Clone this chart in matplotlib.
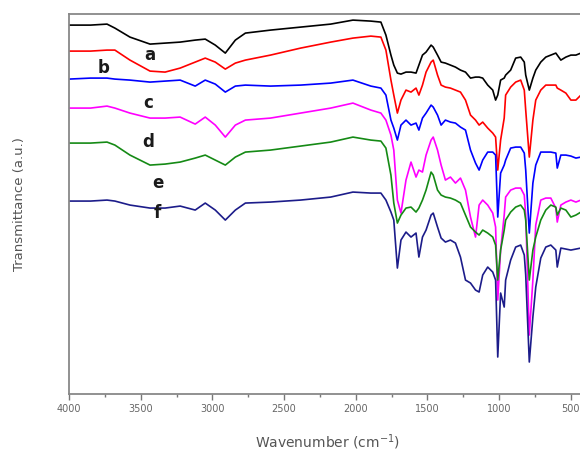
import matplotlib.pyplot as plt

# wavenumber grid (cm-1) shared by all spectra
wavenumber = [4000, 3850, 3735, 3680, 3575, 3435, 3330, 3225, 3120, 3050,
              2980, 2910, 2840, 2770, 2595, 2385, 2175, 2020, 1895, 1825,
              1790, 1755, 1735, 1710, 1685, 1650, 1615, 1580, 1560, 1535,
              1510, 1475, 1460, 1430, 1405, 1375, 1340, 1305, 1270, 1235,
              1200, 1165, 1140, 1115, 1080, 1045, 1025, 1010, 990, 965,
              955, 920, 885, 850, 825, 815, 790, 765, 745, 710,
              675, 640, 605, 595, 570, 535, 500, 465, 430, 400]

# transmittance (a.u., offset stacked)
spec_a = [369, 369, 370, 366, 357, 350, 351, 352, 354, 355,
          349, 341, 354, 361, 364, 367, 370, 374, 373, 372,
          359, 339, 329, 321, 320, 322, 322, 321, 329, 339,
          342, 349, 347, 339, 332, 331, 329, 327, 324, 322,
          316, 317, 317, 316, 309, 304, 294, 299, 314, 316,
          319, 324, 336, 337, 332, 319, 304, 316, 324, 332,
          337, 339, 341, 339, 334, 337, 339, 339, 341, 342]
spec_b = [343, 343, 344, 344, 334, 323, 322, 326, 332, 336,
          332, 325, 331, 334, 339, 346, 352, 356, 358, 357,
          344, 314, 299, 281, 294, 304, 302, 306, 299, 309,
          322, 332, 334, 319, 309, 307, 306, 304, 302, 294,
          279, 274, 269, 272, 266, 261, 257, 224, 254, 276,
          299, 307, 312, 314, 304, 284, 237, 274, 294, 304,
          309, 309, 309, 306, 304, 301, 294, 294, 299, 301]
spec_c = [315, 316, 316, 315, 314, 312, 313, 314, 308, 314,
          310, 302, 308, 309, 308, 309, 311, 314, 308, 306,
          299, 274, 266, 254, 269, 274, 269, 271, 264, 276,
          281, 289, 287, 279, 269, 274, 272, 271, 267, 264,
          244, 231, 224, 234, 242, 242, 239, 177, 221, 229,
          234, 246, 247, 247, 241, 224, 161, 211, 229, 242,
          242, 242, 241, 226, 239, 239, 238, 236, 237, 237]
spec_d = [286, 286, 288, 286, 281, 276, 276, 277, 270, 277,
          269, 257, 269, 274, 276, 281, 286, 291, 284, 281,
          274, 259, 244, 194, 181, 214, 232, 217, 224, 222,
          239, 254, 257, 244, 229, 214, 217, 211, 216, 204,
          177, 157, 189, 194, 189, 181, 167, 94, 144, 179,
          197, 204, 206, 206, 199, 179, 59, 114, 169, 194,
          196, 196, 186, 172, 189, 192, 194, 192, 194, 194]
spec_e = [251, 251, 252, 249, 239, 229, 230, 232, 236, 239,
          234, 229, 237, 242, 244, 248, 252, 257, 254, 253,
          246, 219, 191, 171, 179, 186, 187, 182, 186, 194,
          204, 222, 219, 204, 199, 197, 196, 194, 191, 179,
          167, 162, 159, 164, 161, 157, 149, 114, 144, 164,
          174, 182, 187, 189, 184, 174, 114, 144, 157, 174,
          184, 189, 187, 179, 186, 184, 177, 179, 182, 182]
spec_f = [193, 193, 194, 193, 189, 186, 186, 188, 184, 191,
          184, 174, 184, 191, 192, 194, 197, 202, 201, 201,
          194, 182, 174, 126, 154, 162, 157, 161, 137, 157,
          164, 179, 181, 167, 156, 152, 154, 151, 137, 114,
          111, 104, 102, 119, 127, 122, 114, 37, 101, 87,
          114, 134, 147, 149, 139, 119, 32, 77, 107, 136,
          147, 149, 144, 127, 146, 145, 144, 145, 146, 146]

labels = ["a", "b", "c", "d", "e", "f"]
colors = ["black", "#ff0000", "#0000ff", "#ff00ff", "#158a15", "#1c1c8a"]
label_x = [3435, 3760, 3450, 3450, 3380, 3385]
label_y = [339, 326, 291, 252, 211, 181]

fig = plt.figure(figsize=(5.8, 4.55), dpi=100)
ax = fig.add_axes([0.119, 0.134, 0.890, 0.835])

for spec, col in zip([spec_a, spec_b, spec_c, spec_d, spec_e, spec_f], colors):
    ax.plot(wavenumber, spec, color=col, linewidth=1.2)

for lab, lx, ly in zip(labels, label_x, label_y):
    ax.text(lx, ly, lab, fontsize=12, fontweight="bold", color="#1a1a1a",
            ha="center", va="center")

ax.set_xlim(4000, 400)
ax.set_ylim(0, 380)
ax.set_xticks([4000, 3500, 3000, 2500, 2000, 1500, 1000, 500])
ax.set_xticks([3750, 3250, 2750, 2250, 1750, 1250, 750], minor=True)
ax.set_yticks([])
ax.tick_params(axis="x", which="major", direction="out", length=4,
               width=1, colors="#777777", labelsize=7, labelcolor="#666666")
ax.tick_params(axis="x", which="minor", direction="out", length=2.5,
               width=1, colors="#777777")
for side in ["top", "right", "bottom", "left"]:
    ax.spines[side].set_color("#888888")
    ax.spines[side].set_linewidth(1.3)

ax.set_xlabel("Wavenumber (cm$^{-1}$)", fontsize=10, color="#555555",
              labelpad=13)
ax.set_ylabel("Transmittance (a.u.)", fontsize=9.5, color="#555555",
              labelpad=31)

fig.savefig("out.png", dpi=100)
